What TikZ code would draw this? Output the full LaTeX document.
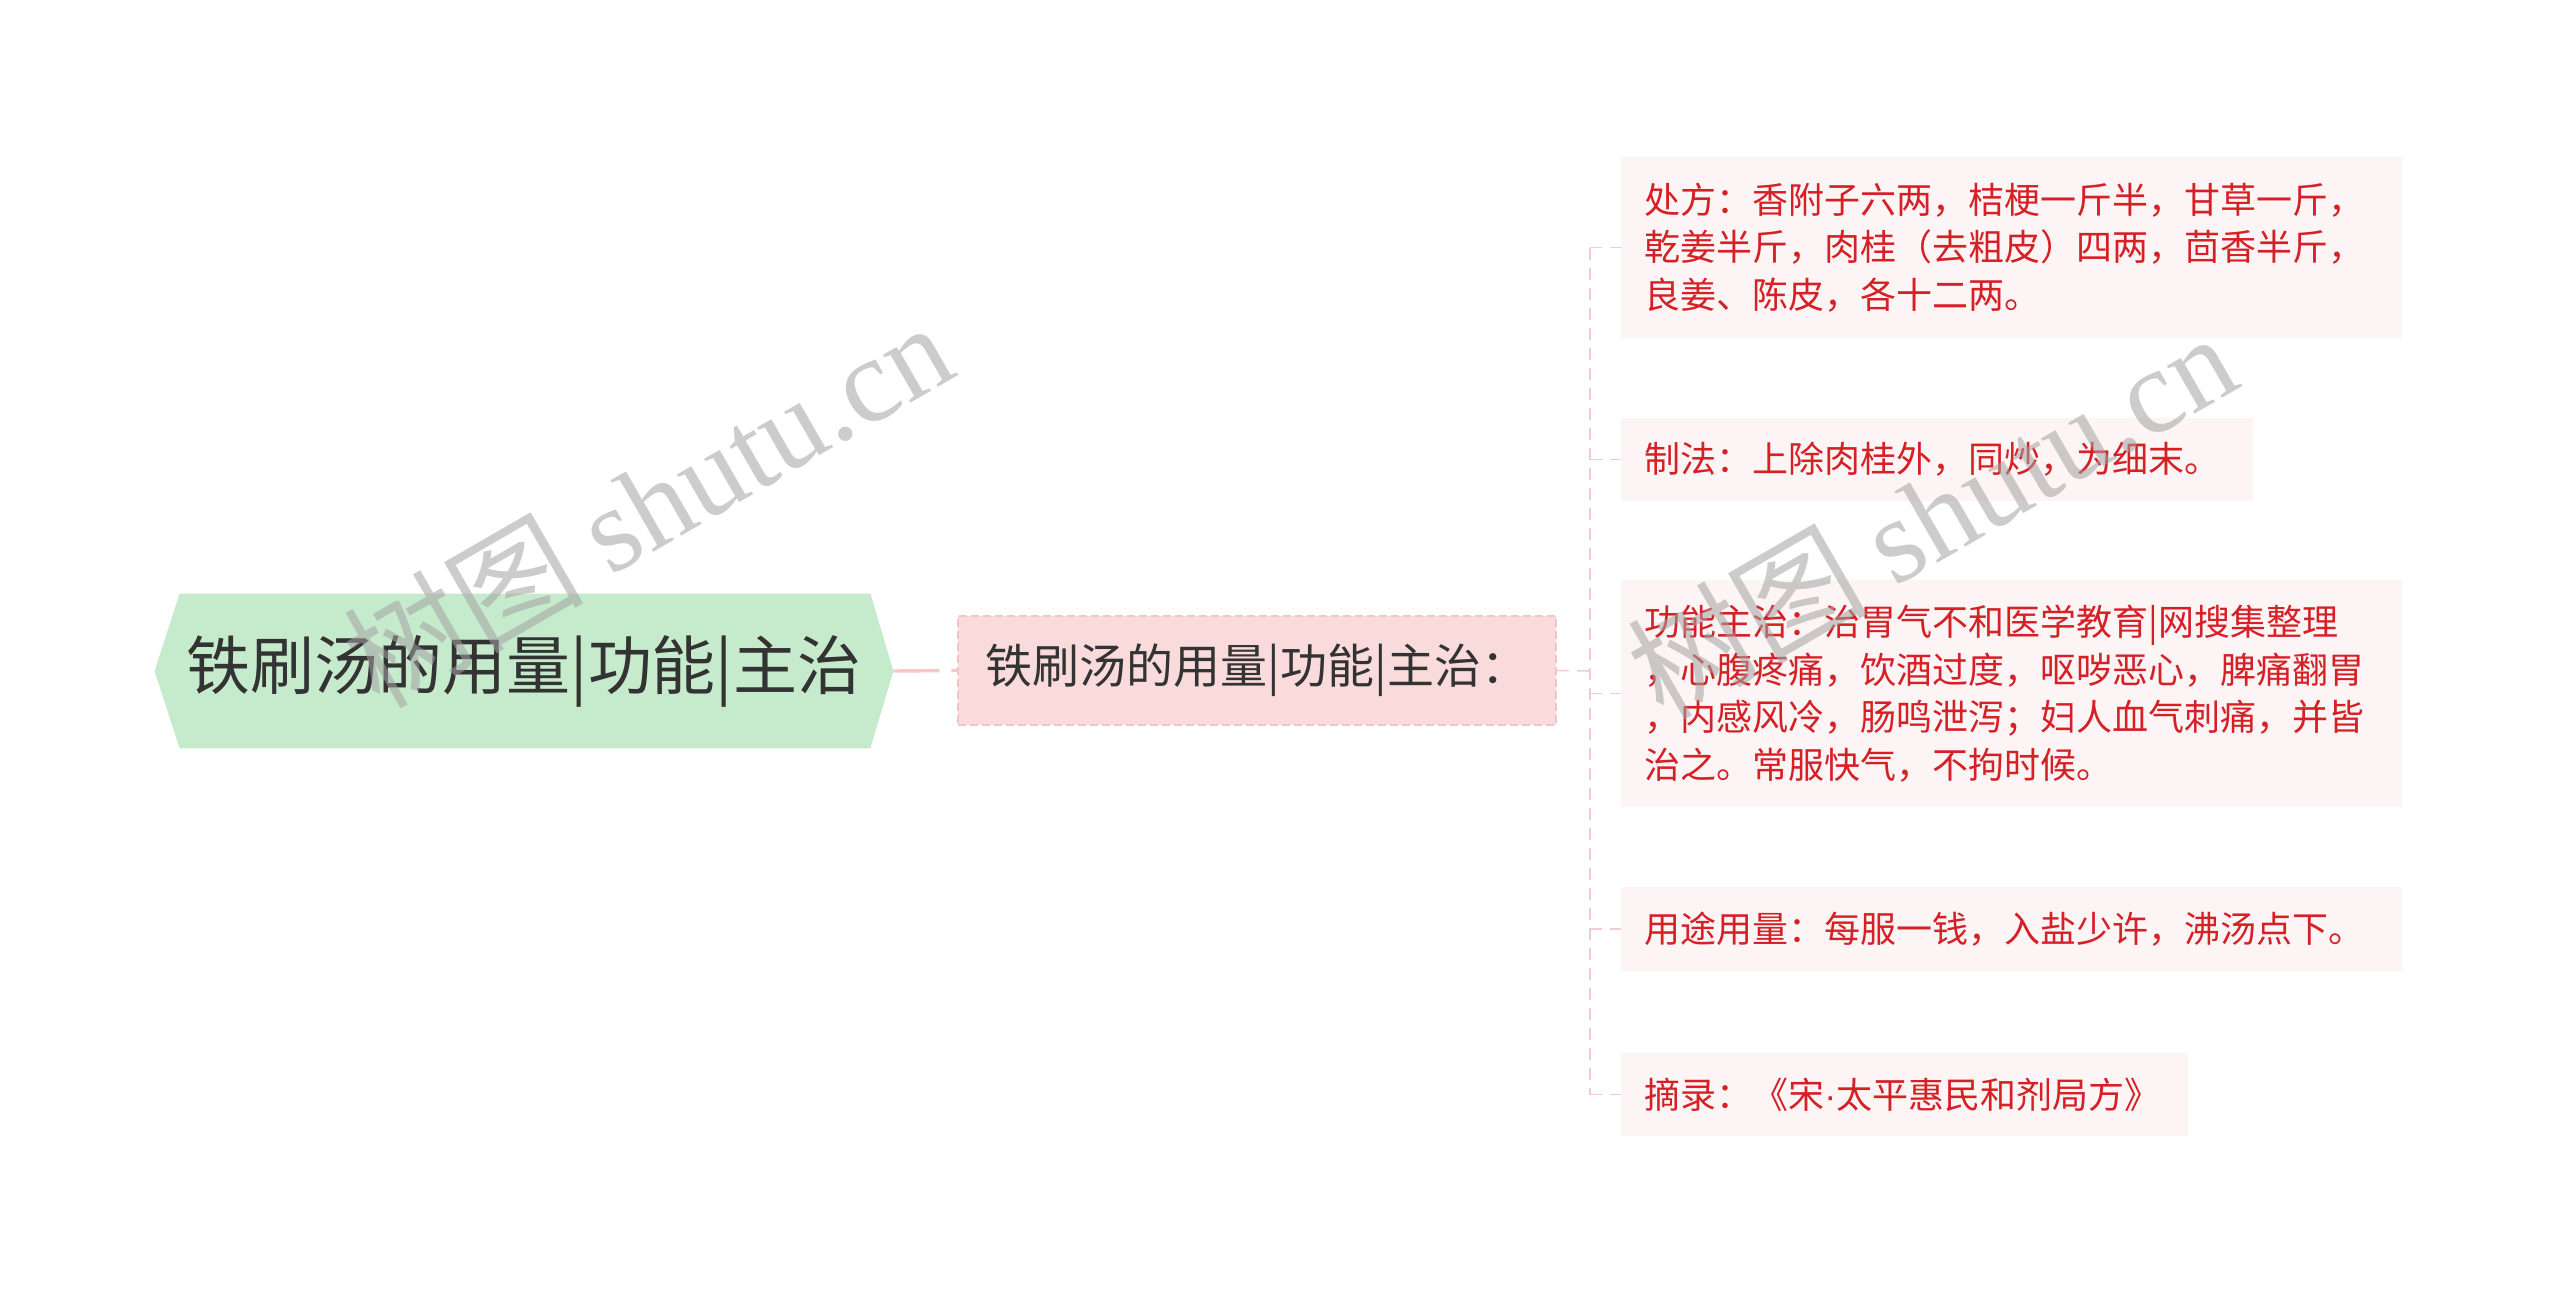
\documentclass[tikz,border=0pt]{standalone}
\usepackage{fontspec}
\setmainfont{Noto Sans CJK SC}
\newfontfamily\wmfont{Liberation Serif}
\newfontfamily\dotfont{Liberation Sans}
\usetikzlibrary{backgrounds,positioning}

\definecolor{rootgreen}{RGB}{198,235,204}
\definecolor{subpink}{RGB}{250,219,219}
\definecolor{subedge}{RGB}{243,196,198}
\definecolor{leafpink}{RGB}{253,245,245}
\definecolor{leafred}{RGB}{213,32,38}
\definecolor{linkpink}{RGB}{238,204,207}
\definecolor{textgrey}{RGB}{51,51,51}

\begin{document}
\begin{tikzpicture}[x=0.5pt,y=-0.5pt]

\tikzset{rootnode/.style={font=\fontsize{32pt}{38pt}\selectfont,text=textgrey,minimum width=369pt,minimum height=77pt,inner sep=0pt},
subnode/.style={font=\fontsize{23.5pt}{28pt}\selectfont,text=textgrey,fill=subpink,draw=subedge,line width=1pt,dash pattern=on 4pt off 2pt,minimum width=299pt,minimum height=54.5pt,inner sep=0pt},
leafnode/.style={font=\fontsize{18pt}{23.75pt}\selectfont,text=leafred,fill=leafpink,anchor=west,align=left,inner xsep=11.5pt,inner ysep=0pt},
mainlink/.style={draw=linkpink!80!red!60,line width=1.7pt,dash pattern=on 23pt off 6pt},
branch/.style={draw=linkpink,line width=0.8pt,dash pattern=on 6pt off 4pt},
wmark/.style={rotate=30,font=\fontsize{60pt}{60pt}\selectfont,text=black!36,text opacity=0.55,inner sep=0pt}}

\useasboundingbox (0,0) rectangle (2560,1295);

% Root and middle node
\node[rootnode] (root) at (524,671) {铁刷汤的用量|功能|主治};
\begin{scope}[on background layer]
\fill[white] (0,0) rectangle (2560,1295);
\fill[rootgreen] (root.west) -- ([xshift=12.5pt]root.north west) -- ([xshift=-11.5pt]root.north east) -- (root.east) -- ([xshift=-11.5pt]root.south east) -- ([xshift=12.5pt]root.south west) -- cycle;
\end{scope}
\node[subnode] (sub) at (1257,670.5) {铁刷汤的用量|功能|主治：};

% Leaf nodes
\node[leafnode,text width=367.5pt,minimum height=90.5pt] (c1) at (1621,247.5) {处方：香附子六两，桔梗一斤半，甘草一斤，\\乾姜半斤，肉桂（去粗皮）四两，茴香半斤，\\良姜、陈皮，各十二两。};
\node[leafnode,text width=293pt,minimum height=41.5pt] (c2) at (1621,459.5) {制法：上除肉桂外，同炒，为细末。};
\node[leafnode,text width=367.5pt,minimum height=113.5pt] (c3) at (1621,693.5) {功能主治：治胃气不和医学教育|网搜集整理\\，心腹疼痛，饮酒过度，呕哕恶心，脾痛翻胃\\，内感风冷，肠鸣泄泻；妇人血气刺痛，并皆\\治之。常服快气，不拘时候。};
\node[leafnode,text width=367.5pt,minimum height=42pt] (c4) at (1621,929) {用途用量：每服一钱，入盐少许，沸汤点下。};
\node[leafnode,text width=260.5pt,minimum height=41.5pt] (c5) at (1621,1094.5) {摘录：《宋{\dotfont ·}太平惠民和剂局方》};

% Edges
\coordinate (jun) at (1590,671);
\draw[mainlink] (root.east) -- (sub.west);
\draw[branch] (sub.east) -- (jun);
\draw[branch] (jun |- c1.west) -- (jun |- c5.west);
\foreach \c in {c1,c2,c3,c4,c5} \draw[branch] (jun |- \c.west) -- (\c.west);

% Watermarks
\node[wmark] (wm1) at (647,503) {树图 {\wmfont shutu.cn}};
\node[wmark] (wm2) at (1931,514) {树图 {\wmfont shutu.cn}};

\end{tikzpicture}
\end{document}
